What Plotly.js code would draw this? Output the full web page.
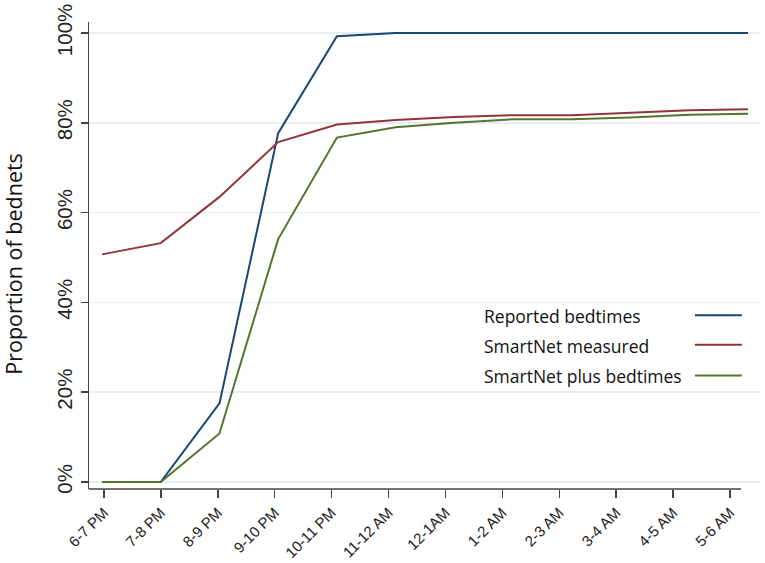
<!DOCTYPE html>
<html>
<head>
<meta charset="utf-8">
<script src="https://cdn.plot.ly/plotly-3.0.1.min.js"></script>
<style>
  html, body { margin: 0; padding: 0; background: #fff; }
  #chart { width: 765px; height: 563px; }
</style>
</head>
<body>
<div id="chart"></div>
<script>
// Hour bins along the x axis
var hours = ['6-7 PM', '7-8 PM', '8-9 PM', '9-10 PM', '10-11 PM', '11-12 AM',
             '12-1AM', '1-2 AM', '2-3 AM', '3-4 AM', '4-5 AM', '5-6 AM'];

// Proportion of bednets in use
var reportedBedtimes = [0, 0, 0.175, 0.777, 0.993, 1.0, 1.0, 1.0, 1.0, 1.0, 1.0, 1.0];
var smartnetMeasured = [0.507, 0.532, 0.635, 0.757, 0.796, 0.806, 0.813, 0.817, 0.817, 0.822, 0.828, 0.830];
var smartnetPlusBed  = [0, 0, 0.108, 0.541, 0.767, 0.790, 0.800, 0.808, 0.808, 0.812, 0.818, 0.820];

var seriesNames  = ['Reported bedtimes', 'SmartNet measured', 'SmartNet plus bedtimes'];
var seriesColors = ['#1a476f', '#90353b', '#55752f'];

var idx = hours.map(function (h, i) { return i; });
var allSeries = [reportedBedtimes, smartnetMeasured, smartnetPlusBed];

var traces = allSeries.map(function (vals, k) {
    return {
        x: idx,
        y: vals,
        name: seriesNames[k],
        type: 'scatter',
        mode: 'lines',
        xaxis: 'x2',
        line: { color: seriesColors[k], width: 2 },
        showlegend: false,
        hoverinfo: 'x+y'
    };
});

// hand-made legend: text on the left, line sample on the right
var legendY = [0.370, 0.307, 0.241];
var annotations = [];
var shapes = [];
seriesNames.forEach(function (name, k) {
    annotations.push({
        xref: 'paper', yref: 'paper',
        x: 0.585, y: legendY[k],
        xanchor: 'left', yanchor: 'middle',
        text: name, showarrow: false,
        font: { family: 'Open Sans', size: 17.5, color: '#111' }
    });
    shapes.push({
        type: 'line', xref: 'paper', yref: 'paper',
        x0: 0.903, x1: 0.973, y0: legendY[k] + 0.002, y1: legendY[k] + 0.002,
        line: { color: seriesColors[k], width: 2 }
    });
});

// y axis title, placed by hand to sit where the original has it
annotations.push({
    xref: 'paper', yref: 'paper',
    x: -0.112, y: 0.482,
    xanchor: 'center', yanchor: 'middle',
    textangle: -90,
    text: 'Proportion of bednets', showarrow: false,
    font: { family: 'Open Sans', size: 21.5, color: '#111' }
});

// x axis line stops short of the plot edge
shapes.push({
    type: 'line', xref: 'x', yref: 'paper',
    x0: -0.2636, x1: 11.193, y0: 0, y1: 0,
    line: { color: '#444', width: 1.5 }
});

var layout = {
    width: 765,
    height: 563,
    margin: { l: 89, r: 5, t: 22, b: 74 },
    paper_bgcolor: '#fff',
    plot_bgcolor: '#fff',
    font: { family: 'Liberation Sans, Arial, sans-serif', color: '#222' },
    xaxis: {
        range: [-0.2636, 11.527],
        tickmode: 'array',
        tickvals: idx,
        ticktext: hours,
        tickangle: -45,
        ticks: 'outside',
        ticklen: 8,
        tickwidth: 1.5,
        tickcolor: '#444',
        showline: false,
        showgrid: false,
        zeroline: false,
        tickfont: { size: 15, color: '#222' },
        fixedrange: true
    },
    xaxis2: {
        overlaying: 'x',
        range: [-0.2214, 11.204],
        visible: false,
        fixedrange: true
    },
    yaxis: {
        range: [-0.0156, 1.0245],
        tickmode: 'array',
        tickvals: [0, 0.2, 0.4, 0.6, 0.8, 1.0],
        tickformat: '.0%',
        tickangle: -90,
        ticks: 'outside',
        ticklen: 7,
        tickwidth: 1.5,
        tickcolor: '#444',
        showline: true,
        linecolor: '#444',
        linewidth: 1.5,
        showgrid: true,
        gridcolor: '#e7eef2',
        gridwidth: 1.5,
        zeroline: false,
        tickfont: { size: 20.5, color: '#222' },
        fixedrange: true
    },
    annotations: annotations,
    shapes: shapes
};

Plotly.newPlot('chart', traces, layout, { displayModeBar: false, staticPlot: true });
</script>
</body>
</html>
